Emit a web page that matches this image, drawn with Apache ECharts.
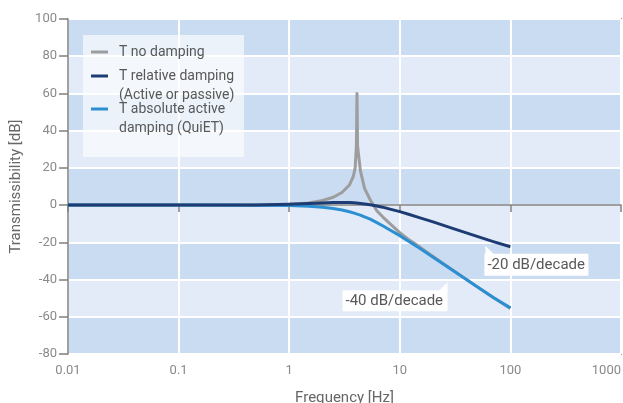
<!DOCTYPE html>
<html>
<head>
<meta charset="utf-8">
<script src="https://cdn.jsdelivr.net/npm/echarts@6/dist/echarts.min.js"></script>
<style>
html,body{margin:0;padding:0;background:#fff;}
#c{width:623px;height:403px;}
</style>
</head>
<body>
<div id="c"></div>
<script>
// Frequencies (Hz) shared by all series
var freq = [0.01, 0.1, 0.5, 1, 1.5, 2, 2.5, 3, 3.5, 3.8, 3.95, 4.05, 4.1, 4.15, 4.4, 4.8, 5.4, 6.2, 7, 8, 10, 12, 15, 20, 30, 50, 70, 100];
// Transmissibility (dB)
var noDamping = [0, 0, 0.1, 0.5, 1.2, 2.5, 4.2, 6.8, 10.8, 15.5, 20, 32, 60, 32, 18.5, 9, 2.9, -3, -6.3, -9.5, -14.8, -18.5, -22.3, -27.6, -34.8, -43.8, -49.7, -55.6];
var relDamping = [0, 0, 0.1, 0.45, 0.85, 1.2, 1.4, 1.45, 1.35, 1.25, 1.2, 1.15, 1.1, 1.05, 0.9, 0.6, 0.15, -0.45, -1.1, -2, -3.5, -4.9, -6.7, -9.0, -12.5, -16.8, -19.6, -22.4];
var absDamping = [0, 0, -0.05, -0.25, -0.6, -1.1, -1.8, -2.6, -3.6, -4.2, -4.5, -4.7, -4.8, -4.9, -5.4, -6.3, -7.5, -9.4, -11.1, -13.1, -16.4, -19.4, -23.1, -28, -35, -43.8, -49.6, -55.2];

var seriesNames = ['T no damping', 'T relative damping (Active or passive)', 'T absolute active damping (QuiET)'];
var legendLines = [['T no damping'], ['T relative damping', '(Active or passive)'], ['T absolute active', 'damping (QuiET)']];
var xTicks = [0.01, 0.1, 1, 10, 100, 1000];
var yMin = -80, yMax = 100, yStep = 20;

// annotations: text and anchor (data coords)
var note20 = {text: '-20 dB/decade', at: [100, -22.4]};
var note40 = {text: '-40 dB/decade', at: [27, -41.5]};

var COL_GREY = '#9d9d9d', COL_NAVY = '#1d3c74', COL_LIGHT = '#2b8fd1';
var FONT = 'Roboto, "Liberation Sans", sans-serif';

function pairs(vals){ return freq.map(function(f,i){ return [f, vals[i]]; }); }

var chart = echarts.init(document.getElementById('c'), null, {renderer:'canvas'});
var option = {
  animation: false,
  backgroundColor: '#ffffff',
  textStyle: {fontFamily: FONT},
  grid: {left: 68, right: 2, top: 19, bottom: 49, show: true, containLabel: false, outerBoundsMode: 'none',
    borderColor: '#999999', borderWidth: 2, backgroundColor: 'transparent'},
  xAxis: {
    type: 'log', logBase: 10, min: xTicks[0], max: xTicks[xTicks.length-1],
    name: 'Frequency [Hz]', nameLocation: 'middle', nameGap: 37,
    nameTextStyle: {color: '#666', fontSize: 15, fontFamily: FONT},
    axisLine: {lineStyle: {color: '#808080', width: 1.5}},
    axisTick: {show: true, inside: false, length: 7, lineStyle: {color: '#808080', width: 1.5}},
    axisLabel: {color: '#8a8a8a', fontSize: 13, margin: 10, fontFamily: FONT, alignMaxLabel: 'right',
      formatter: function(v){ return String(v); }},
    minorTick: {show: false},
    splitLine: {show: true, lineStyle: {color: '#ffffff', width: 2}}
  },
  yAxis: {
    type: 'value', min: yMin, max: yMax, interval: yStep,
    name: 'Transmissibility [dB]', nameLocation: 'middle', nameGap: 44,
    nameTextStyle: {color: '#666', fontSize: 15, fontFamily: FONT},
    axisLine: {show: true, lineStyle: {color: '#808080', width: 1.5}},
    axisTick: {show: true, inside: false, length: 9, lineStyle: {color: '#808080', width: 1.5}},
    axisLabel: {color: '#8a8a8a', fontSize: 13, margin: 11, fontFamily: FONT},
    splitLine: {show: true, lineStyle: {color: '#ffffff', width: 2}},
    splitArea: {show: true, areaStyle: {color: ['#cadcf2', '#e3ebf8']}}
  },
  series: [
    {name: seriesNames[0], type: 'line', data: pairs(noDamping), showSymbol: false, smooth: false,
      lineStyle: {color: COL_GREY, width: 3, join: 'round'}, itemStyle: {color: COL_GREY}, z: 2},
    {name: seriesNames[2], type: 'line', data: pairs(absDamping), showSymbol: false, smooth: false,
      lineStyle: {color: COL_LIGHT, width: 3, join: 'round'}, itemStyle: {color: COL_LIGHT}, z: 3},
    {name: seriesNames[1], type: 'line', data: pairs(relDamping), showSymbol: false, smooth: false,
      lineStyle: {color: COL_NAVY, width: 3, join: 'round'}, itemStyle: {color: COL_NAVY}, z: 4}
  ]
};
chart.setOption(option);

// Legend box (drawn as graphic to match multi-line layout)
var legendCols = [COL_GREY, COL_NAVY, COL_LIGHT];
var legendY = [52, 76, 109];
var g = [];
g.push({type: 'rect', shape: {x: 83, y: 35, width: 161, height: 122}, style: {fill: 'rgba(255,255,255,0.62)'}, z: 10});
legendLines.forEach(function(lines, i){
  g.push({type: 'line', shape: {x1: 91, y1: legendY[i], x2: 108, y2: legendY[i]}, style: {stroke: legendCols[i], lineWidth: 3}, z: 11});
  lines.forEach(function(t, j){
    g.push({type: 'text', x: 119, y: legendY[i] + j * 19, style: {text: t, fill: '#585858', font: '14px ' + FONT, textVerticalAlign: 'middle', verticalAlign: 'middle'}, z: 11});
  });
});

// Slope annotations
var p20 = chart.convertToPixel({xAxisIndex: 0, yAxisIndex: 0}, note20.at);
var p40 = chart.convertToPixel({xAxisIndex: 0, yAxisIndex: 0}, note40.at);
g.push({type: 'polygon', shape: {points: [[p20[0]-25, p20[1]-1], [p20[0]-25, p20[1]+8], [p20[0]-16, p20[1]+8]]}, style: {fill: '#ffffff'}, z: 10});
g.push({type: 'rect', shape: {x: p20[0]-26, y: p20[1]+7, width: 104, height: 22}, style: {fill: '#ffffff'}, z: 10});
g.push({type: 'text', x: p20[0]-23, y: p20[1]+18.5, style: {text: note20.text, fill: '#585858', font: '15px ' + FONT, verticalAlign: 'middle', textVerticalAlign: 'middle'}, z: 11});

g.push({type: 'polygon', shape: {points: [[p40[0], p40[1]], [p40[0], p40[1]+9], [p40[0]-9, p40[1]+9]]}, style: {fill: '#ffffff'}, z: 10});
g.push({type: 'rect', shape: {x: p40[0]-105, y: p40[1]+8, width: 105, height: 21}, style: {fill: '#ffffff'}, z: 10});
g.push({type: 'text', x: p40[0]-102, y: p40[1]+18.5, style: {text: note40.text, fill: '#585858', font: '15px ' + FONT, verticalAlign: 'middle', textVerticalAlign: 'middle'}, z: 11});

chart.setOption({graphic: g});
</script>
</body>
</html>
